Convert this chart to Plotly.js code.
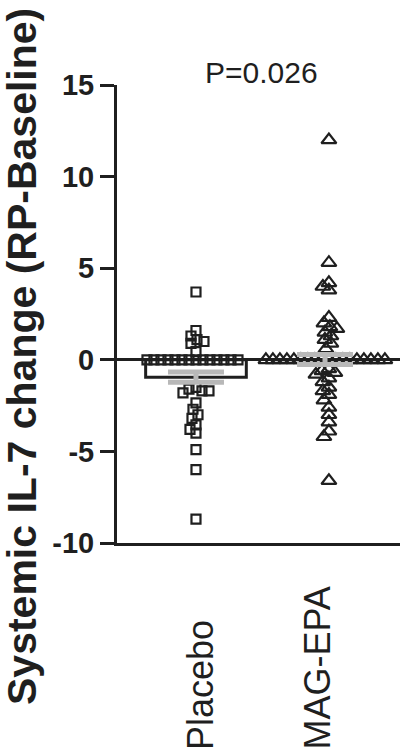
<!DOCTYPE html>
<html>
<head>
<meta charset="utf-8">
<script src="https://cdn.plot.ly/plotly-3.0.1.min.js"></script>
<style>html,body{margin:0;padding:0;background:#fff;}#chart{width:400px;height:756px;}</style>
</head>
<body>
<div id="chart"></div>
<script>
// ---- data ----
var categories = ['Placebo', 'MAG-EPA'];
var placeboValues = [3.7, 1.6, 1.3, 1.1, 1.0, 0.9, 0.45,
  0, 0, 0, 0, 0, 0, 0, 0, 0, 0, 0, 0, 0, 0,
  -1.5, -1.6, -1.7, -1.7, -1.8, -2.35, -2.7, -3.0, -3.2, -3.55, -3.8, -4.0, -4.9, -6.0, -8.7];
var magEpaValues = [12.0, 5.3, 4.2, 4.0, 3.8, 2.3, 2.0, 1.8, 1.7, 1.5, 1.3, 1.1, 0.9, 0.6,
  0, 0, 0, 0, 0, 0, 0, 0, 0, 0, 0, 0, 0, 0, 0, 0, 0, 0,
  -0.5, -0.6, -0.7, -0.8, -1.0, -1.2, -1.5, -1.7, -1.9, -2.2, -2.6, -3.0, -3.4, -3.9, -4.2, -6.6];
var groupMeans = [-0.95, 0.02];
var groupSEM = [0.28, 0.27];
var pValueText = 'P=0.026';
var yTickVals = [-10, -5, 0, 5, 10, 15];
var yTickText = ['-10', '-5', '0', '5', '10', '15'];
var yTitle = 'Systemic IL-7 change (RP-Baseline)';

// ---- layout geometry ----
var W = 400, H = 756;
var M = {l: 117, r: 0, t: 85, b: 213};
var xRange = [-0.612, 1.581];
var yRange = [-10, 15];
var plotW = W - M.l - M.r, plotH = H - M.t - M.b;
var pxPerX = plotW / (xRange[1] - xRange[0]);
var pxPerY = plotH / (yRange[1] - yRange[0]);

// simple beeswarm: spread points horizontally so markers don't pile up
function swarm(values, center, d) {
  var idx = values.map(function (v, i) { return i; });
  idx.sort(function (a, b) { return values[b] - values[a]; });
  var placed = [];
  var xs = new Array(values.length);
  idx.forEach(function (i) {
    var py = values[i] * pxPerY;
    for (var k = 0; k < 400; k++) {
      var off = (k % 2 === 0 ? 1 : -1) * Math.ceil(k / 2);
      var ok = placed.every(function (p) {
        var dx = p[0] - off, dy = p[1] - py;
        return dx * dx + dy * dy >= d * d;
      });
      if (ok) { placed.push([off, py]); xs[i] = center + off / pxPerX; break; }
    }
  });
  return xs;
}

var ink = '#1f1f1f';
var grey = '#b8b8b8';

var traces = [
  {
    type: 'bar', x: [0, 1], y: groupMeans, width: 0.78,
    marker: {color: 'rgba(255,255,255,0)', line: {color: ink, width: 3}},
    hoverinfo: 'skip', showlegend: false
  },
  {
    type: 'scatter', mode: 'markers',
    x: swarm(placeboValues, 0, 7), y: placeboValues,
    marker: {symbol: 'square-open', size: 9, color: ink, line: {width: 2.2, color: ink}},
    showlegend: false
  },
  {
    type: 'scatter', mode: 'markers',
    x: swarm(magEpaValues, 1.03, 6.8), y: magEpaValues,
    marker: {symbol: 'triangle-up-open', size: 13, color: ink, line: {width: 2.2, color: ink}},
    showlegend: false
  },
  {
    type: 'scatter', mode: 'markers', x: [0, 1], y: groupMeans,
    marker: {size: 1, color: 'rgba(0,0,0,0)'},
    error_y: {type: 'data', array: groupSEM, visible: true, color: grey, thickness: 5, width: 28},
    showlegend: false
  }
];

var annotations = [
  {
    text: pValueText, xref: 'paper', yref: 'paper',
    x: (261 - M.l) / plotW, y: (H - M.b - 72) / plotH,
    xanchor: 'center', yanchor: 'middle', showarrow: false,
    font: {family: 'Liberation Sans, Arial, sans-serif', size: 30, color: ink}
  },
  {
    text: '<b>' + yTitle + '</b>', xref: 'paper', yref: 'paper', textangle: -90,
    x: (22 - M.l) / plotW, y: (H - M.b - 357) / plotH,
    xanchor: 'center', yanchor: 'middle', showarrow: false,
    font: {family: 'Liberation Sans, Arial, sans-serif', size: 41, color: ink}
  }
];
categories.forEach(function (c, i) {
  annotations.push({
    text: c, xref: 'x', yref: 'paper', textangle: -90,
    x: i, xshift: i === 0 ? 4 : -8, y: (H - M.b - 752) / plotH,
    xanchor: 'center', yanchor: 'bottom', showarrow: false,
    font: {family: 'Liberation Sans, Arial, sans-serif', size: 36, color: ink}
  });
});

var layout = {
  width: W, height: H,
  margin: M,
  paper_bgcolor: '#fff', plot_bgcolor: '#fff',
  showlegend: false,
  barmode: 'overlay',
  xaxis: {
    range: xRange, showgrid: false, zeroline: false,
    showline: true, linecolor: ink, linewidth: 3,
    ticks: '', showticklabels: false, fixedrange: true
  },
  yaxis: {
    range: yRange, showgrid: false,
    zeroline: true, zerolinecolor: ink, zerolinewidth: 3,
    showline: true, linecolor: ink, linewidth: 3,
    ticks: 'outside', ticklen: 14, tickwidth: 3, tickcolor: ink,
    tickvals: yTickVals, ticktext: yTickText,
    tickfont: {family: 'Liberation Sans, Arial, sans-serif', size: 29, color: ink, weight: 'bold'},
    fixedrange: true
  },
  annotations: annotations
};

Plotly.newPlot('chart', traces, layout, {displayModeBar: false, staticPlot: true});
</script>
</body>
</html>
